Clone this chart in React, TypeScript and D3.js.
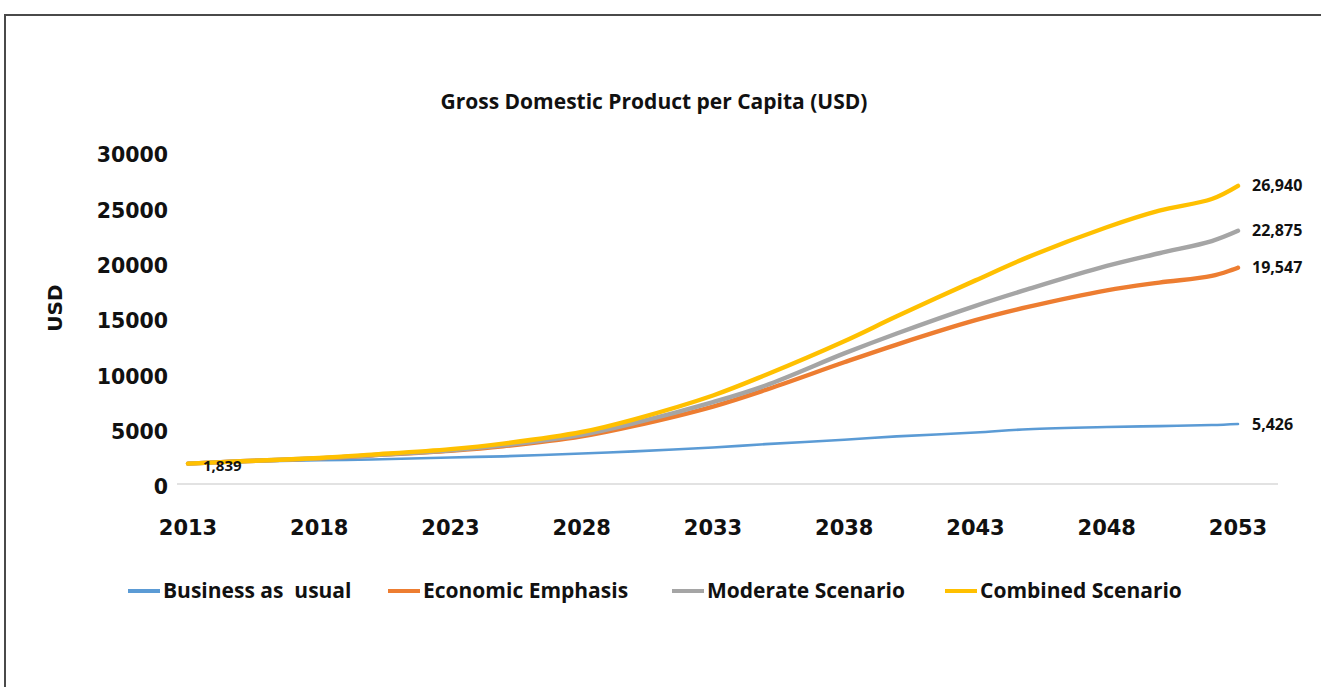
import * as d3 from 'd3';
import React from "react";

const WIDTH = 1321;
const HEIGHT = 687;

const years = [2013, 2015, 2018, 2020, 2023, 2025, 2028, 2030, 2033, 2035, 2038, 2040, 2043, 2045, 2048, 2050, 2052, 2053];
const businessAsUsual = [1839, 2000, 2150, 2220, 2400, 2500, 2750, 2950, 3300, 3600, 4000, 4300, 4650, 4950, 5150, 5230, 5330, 5426];
const economicEmphasis = [1839, 2050, 2320, 2580, 3000, 3400, 4300, 5250, 7000, 8500, 11000, 12600, 14800, 16000, 17500, 18200, 18800, 19547];
const moderateScenario = [1839, 2050, 2330, 2600, 3050, 3500, 4450, 5500, 7400, 8900, 11800, 13600, 16100, 17600, 19700, 20850, 21950, 22875];
const combinedScenario = [1839, 2050, 2350, 2650, 3150, 3650, 4700, 5850, 8000, 9850, 12900, 15150, 18400, 20500, 23200, 24700, 25750, 26940];

const seriesNames = ["Business as  usual", "Economic Emphasis", "Moderate Scenario", "Combined Scenario"];
const seriesValues = [businessAsUsual, economicEmphasis, moderateScenario, combinedScenario];
const colors = ["#5B9BD5", "#ED7D31", "#A5A5A5", "#FFC000"];
const widths = [2.6, 4.4, 4.4, 4.4];

const xTicks = [2013, 2018, 2023, 2028, 2033, 2038, 2043, 2048, 2053];
const yTicks = [0, 5000, 10000, 15000, 20000, 25000, 30000];

const legendX = [128, 388, 672, 945];

const BOLD = "'DejaVu Sans', sans-serif";
const LABEL = "'Open Sans', sans-serif";

export default function App() {
    const x = d3.scaleLinear().domain([2013, 2053]).range([188, 1238]);
    const y = d3.scaleLinear().domain([0, 30000]).range([484, 152]);

    const line = d3.line<number>()
        .x((_, i) => x(years[i]))
        .y(d => y(d))
        .curve(d3.curveCatmullRom.alpha(0.5));

    const fmt = d3.format(",");

    return (
        <svg width={WIDTH} height={HEIGHT} style={{position: "absolute", left: 0, top: 0, background: "#fff"}}>
            {/* frame */}
            <path d={`M5,${HEIGHT + 5} L5,15 L${WIDTH + 5},15`} fill="none" stroke="#4a4a4a" strokeWidth={2}/>

            <text x={654} y={109} textAnchor="middle" fontFamily={LABEL} fontWeight="bold" fontSize={21} fill="#111">
                Gross Domestic Product per Capita (USD)
            </text>

            {/* baseline */}
            <line x1={177} x2={1278} y1={y(0)} y2={y(0)} stroke="#d9d9d9" strokeWidth={1.5}/>

            {yTicks.map(t => (
                <text key={t} x={168} y={y(t) + 3} dy="0.36em" textAnchor="end" fontFamily={BOLD}
                      fontWeight="bold" fontSize={20.5} fill="#111">{t}</text>
            ))}

            {xTicks.map(t => (
                <text key={t} x={x(t)} y={535} textAnchor="middle" fontFamily={BOLD}
                      fontWeight="bold" fontSize={21} fill="#111">{t}</text>
            ))}

            <text transform="translate(62,308) rotate(-90)" textAnchor="middle" fontFamily={BOLD}
                  fontWeight="bold" fontSize={20} fill="#111">USD</text>

            {seriesValues.map((vals, i) => (
                <path key={i} d={line(vals) || ""} fill="none" stroke={colors[i]} strokeWidth={widths[i]}
                      strokeLinecap="round" strokeLinejoin="round"/>
            ))}

            {seriesValues.map((vals, i) => (
                <text key={i} x={x(2053) + 14} y={y(vals[vals.length - 1])} dy="0.35em" fontFamily={LABEL}
                      fontWeight="bold" fontSize={16} fill="#111">{fmt(vals[vals.length - 1])}</text>
            ))}
            <text x={x(2013) + 15} y={y(businessAsUsual[0]) + 2} dy="0.35em" fontFamily={LABEL}
                  fontWeight="bold" fontSize={15} fill="#111">{fmt(businessAsUsual[0])}</text>

            {seriesNames.map((name, i) => (
                <g key={name} transform={`translate(${legendX[i]},591)`}>
                    <line x1={0} x2={32} y1={0} y2={0} stroke={colors[i]} strokeWidth={4}/>
                    <text x={35} y={0} dy="0.35em" fontFamily={LABEL} fontWeight="bold" fontSize={21}
                          fill="#111" style={{whiteSpace: "pre"}}>{name}</text>
                </g>
            ))}
        </svg>
    );
}
